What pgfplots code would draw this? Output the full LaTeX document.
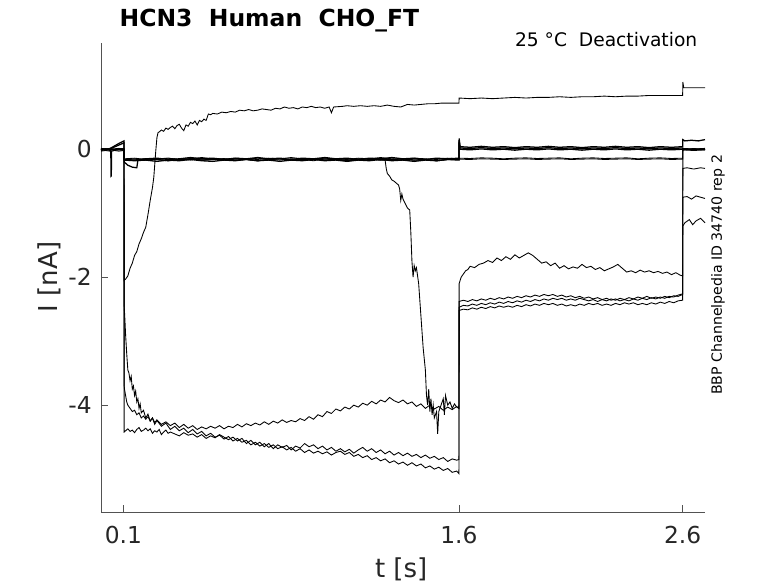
\documentclass[border=0pt]{standalone}
\usepackage{fontspec}
\setmainfont{DejaVu Sans}
\usepackage{pgfplots}
\pgfplotsset{compat=1.18}
\definecolor{axgray}{rgb}{0.15,0.15,0.15}
\pgfplotsset{tr/.style={black, line width=0.65pt, mark=none}, bd/.style={black, line width=0.95pt, mark=none}}
\begin{document}
\begin{tikzpicture}
\path[use as bounding box] (0,0) rectangle (583.5pt,437.25pt);
\begin{axis}[
  at={(75.75pt,53.25pt)}, anchor=south west,
  scale only axis, width=453pt, height=351.75pt,
  xmin=0, xmax=2.7, ymin=-5.67, ymax=1.66,
  clip=false,
  axis x line*=bottom, axis y line*=left,
  xtick pos=left, ytick pos=left,
  axis line style={-, draw=axgray!80, line width=0.5pt},
  tick align=inside, major tick length=5pt,
  tick style={draw=axgray!80, line width=0.5pt},
  xtick={0.1,1.6,2.6}, xticklabels={0.1,1.6,2.6},
  ytick={-4,-2,0}, yticklabels={-4,-2,0},
  tick label style={font=\fontsize{17.5}{20}\selectfont, text=axgray},
  xticklabel style={yshift=-7pt},
  yticklabel style={xshift=-3.5pt},
  xlabel={t [s]}, ylabel={I [nA]},
  label style={font=\fontsize{19.5}{22}\selectfont, text=axgray},
  xlabel style={at={(axis description cs:0.497,-0.1386)}, anchor=base},
  ylabel style={at={(axis description cs:-0.0728,0.501)}, anchor=base},
]
% T1 rising trace
\addplot[tr] coordinates {(0,0.00)(0.01,0.01)(0.02,-0.01)(0.03,0.00)(0.04,0.01)(0.05,-0.01)(0.06,0.00)(0.07,0.01)(0.08,0.00)(0.09,0.01)(0.103,0.00)
(0.1035,-2.05)(0.11,-2.03)(0.12,-1.98)(0.13,-1.86)(0.14,-1.78)(0.15,-1.66)(0.16,-1.6)(0.17,-1.48)(0.18,-1.4)(0.19,-1.3)(0.20,-1.22)(0.21,-1.02)(0.22,-0.8)(0.23,-0.6)(0.236,-0.44)(0.245,-0.02)(0.25,0.18)(0.255,0.26)(0.26,0.27)(0.27,0.3)(0.28,0.28)(0.29,0.33)(0.30,0.31)(0.31,0.34)(0.32,0.36)(0.33,0.32)(0.34,0.37)(0.35,0.39)(0.36,0.33)(0.37,0.29)(0.38,0.38)(0.39,0.36)(0.40,0.42)(0.41,0.40)(0.42,0.44)(0.43,0.38)(0.44,0.45)(0.45,0.43)(0.46,0.47)(0.47,0.45)(0.48,0.55)(0.49,0.54)(0.50,0.56)(0.52,0.55)(0.54,0.58)(0.56,0.57)(0.58,0.59)(0.60,0.58)(0.62,0.61)(0.64,0.6)(0.66,0.62)(0.68,0.6)(0.70,0.61)(0.72,0.63)(0.74,0.62)(0.76,0.61)(0.78,0.64)(0.80,0.63)(0.82,0.66)(0.84,0.64)(0.86,0.65)(0.88,0.63)(0.90,0.66)(0.92,0.65)(0.94,0.67)(0.96,0.65)(0.98,0.66)(1.0,0.64)(1.02,0.66)(1.03,0.57)(1.04,0.66)(1.08,0.67)(1.10,0.68)(1.13,0.67)(1.16,0.68)(1.19,0.67)(1.22,0.68)(1.25,0.67)(1.28,0.69)(1.31,0.67)(1.34,0.66)(1.37,0.7)(1.40,0.69)(1.43,0.7)(1.46,0.71)(1.49,0.71)(1.52,0.72)(1.55,0.72)(1.58,0.72)(1.60,0.72)
(1.601,0.8)(1.65,0.79)(1.70,0.8)(1.75,0.79)(1.80,0.8)(1.85,0.81)(1.90,0.8)(1.95,0.81)(2.0,0.81)(2.05,0.82)(2.1,0.81)(2.15,0.82)(2.2,0.82)(2.25,0.83)(2.3,0.82)(2.35,0.83)(2.4,0.83)(2.45,0.84)(2.5,0.84)(2.55,0.84)(2.6,0.84)
(2.601,1.05)(2.605,0.96)(2.62,0.96)(2.65,0.96)(2.70,0.96)};
% T2 late drop
\addplot[tr] coordinates {(0,-0.01)(0.02,0.00)(0.04,-0.01)(0.06,0.00)(0.08,-0.01)(0.103,0.00)
(0.1035,-0.16)(0.15,-0.15)(0.2,-0.17)(0.25,-0.16)(0.3,-0.14)(0.35,-0.16)(0.4,-0.17)(0.45,-0.15)(0.5,-0.16)(0.55,-0.17)(0.6,-0.15)(0.65,-0.16)(0.7,-0.14)(0.75,-0.16)(0.8,-0.17)(0.85,-0.15)(0.9,-0.16)(0.95,-0.18)(1.0,-0.15)(1.05,-0.16)(1.1,-0.17)(1.15,-0.15)(1.2,-0.16)(1.25,-0.15)
(1.27,-0.17)(1.275,-0.3)(1.28,-0.38)(1.29,-0.42)(1.30,-0.48)(1.31,-0.5)(1.32,-0.53)(1.33,-0.56)(1.335,-0.62)(1.34,-0.8)(1.345,-0.7)(1.35,-0.78)(1.36,-0.85)(1.37,-0.92)(1.38,-0.95)(1.385,-1.3)(1.39,-1.75)(1.395,-2.0)(1.40,-1.82)(1.405,-1.9)(1.41,-1.85)(1.42,-2.1)(1.43,-2.6)(1.44,-3.1)(1.45,-3.45)(1.455,-3.85)(1.46,-4.0)(1.465,-3.75)(1.47,-4.1)(1.475,-3.9)(1.48,-4.15)(1.485,-4.0)(1.49,-4.2)(1.50,-4.1)(1.505,-4.45)(1.51,-4.1)(1.52,-4.0)(1.53,-3.9)(1.535,-4.15)(1.54,-3.85)(1.55,-4.0)(1.56,-3.95)(1.57,-4.05)(1.58,-3.98)(1.59,-4.03)(1.60,-4.05)
(1.601,-2.1)(1.61,-2.0)(1.62,-1.95)(1.63,-1.9)(1.64,-1.88)(1.65,-1.83)(1.67,-1.85)(1.69,-1.8)(1.71,-1.78)(1.73,-1.74)(1.75,-1.77)(1.77,-1.7)(1.79,-1.74)(1.81,-1.68)(1.83,-1.72)(1.85,-1.65)(1.87,-1.7)(1.89,-1.66)(1.91,-1.62)(1.93,-1.66)(1.95,-1.72)(1.97,-1.78)(1.99,-1.76)(2.01,-1.82)(2.03,-1.78)(2.05,-1.86)(2.07,-1.82)(2.09,-1.87)(2.11,-1.84)(2.13,-1.86)(2.15,-1.8)(2.17,-1.85)(2.19,-1.83)(2.21,-1.88)(2.23,-1.85)(2.25,-1.9)(2.27,-1.87)(2.29,-1.84)(2.31,-1.8)(2.33,-1.86)(2.35,-1.92)(2.37,-1.9)(2.39,-1.93)(2.41,-1.89)(2.43,-1.92)(2.45,-1.9)(2.47,-1.93)(2.49,-1.91)(2.51,-1.94)(2.53,-1.92)(2.55,-1.96)(2.57,-1.93)(2.59,-1.97)(2.60,-1.98)
(2.601,-1.2)(2.61,-1.15)(2.63,-1.1)(2.645,-1.18)(2.66,-1.12)(2.68,-1.08)(2.70,-1.15)};
% T3 flat start
\addplot[tr] coordinates {(0,0.01)(0.02,-0.01)(0.04,0.00)(0.06,-0.01)(0.08,0.01)(0.103,0.00)
(0.1035,-4.42)(0.11,-4.4)(0.12,-4.37)(0.13,-4.41)(0.14,-4.39)(0.15,-4.43)(0.16,-4.38)(0.17,-4.35)(0.18,-4.41)(0.19,-4.39)(0.20,-4.36)(0.21,-4.4)(0.22,-4.37)(0.23,-4.44)(0.24,-4.4)(0.25,-4.42)(0.26,-4.38)(0.27,-4.46)(0.28,-4.42)(0.29,-4.39)(0.30,-4.44)(0.31,-4.42)(0.33,-4.45)(0.35,-4.48)(0.37,-4.43)(0.39,-4.47)(0.41,-4.45)(0.43,-4.5)(0.45,-4.46)(0.47,-4.52)(0.49,-4.48)(0.51,-4.51)(0.53,-4.46)(0.55,-4.5)(0.57,-4.54)(0.59,-4.5)(0.61,-4.56)(0.63,-4.52)(0.65,-4.6)(0.67,-4.55)(0.69,-4.62)(0.71,-4.58)(0.73,-4.65)(0.75,-4.6)(0.77,-4.68)(0.79,-4.62)(0.81,-4.66)(0.83,-4.63)(0.85,-4.7)(0.87,-4.64)(0.89,-4.67)(0.91,-4.6)(0.93,-4.65)(0.95,-4.62)(0.97,-4.68)(0.99,-4.64)(1.01,-4.7)(1.03,-4.66)(1.05,-4.72)(1.07,-4.68)(1.09,-4.73)(1.11,-4.69)(1.13,-4.75)(1.15,-4.7)(1.17,-4.66)(1.19,-4.72)(1.21,-4.68)(1.23,-4.74)(1.25,-4.7)(1.27,-4.76)(1.29,-4.72)(1.31,-4.78)(1.33,-4.74)(1.35,-4.79)(1.37,-4.75)(1.39,-4.8)(1.41,-4.77)(1.43,-4.82)(1.45,-4.78)(1.47,-4.83)(1.49,-4.8)(1.51,-4.85)(1.53,-4.82)(1.55,-4.88)(1.57,-4.84)(1.59,-4.86)(1.60,-4.85)
(1.601,-2.47)(1.62,-2.44)(1.64,-2.45)(1.66,-2.42)(1.68,-2.44)(1.70,-2.41)(1.72,-2.43)(1.74,-2.4)(1.76,-2.42)(1.78,-2.39)(1.80,-2.41)(1.82,-2.38)(1.84,-2.4)(1.86,-2.37)(1.88,-2.39)(1.90,-2.36)(1.92,-2.38)(1.94,-2.35)(1.96,-2.37)(1.98,-2.34)(2.0,-2.36)(2.02,-2.33)(2.04,-2.35)(2.06,-2.33)(2.08,-2.36)(2.10,-2.34)(2.12,-2.36)(2.14,-2.33)(2.16,-2.35)(2.18,-2.37)(2.20,-2.35)(2.22,-2.38)(2.24,-2.35)(2.26,-2.37)(2.28,-2.34)(2.30,-2.36)(2.32,-2.33)(2.34,-2.35)(2.36,-2.32)(2.38,-2.34)(2.40,-2.31)(2.42,-2.33)(2.44,-2.3)(2.46,-2.33)(2.48,-2.31)(2.50,-2.33)(2.52,-2.3)(2.54,-2.32)(2.56,-2.29)(2.58,-2.3)(2.60,-2.27)
(2.601,-0.75)(2.62,-0.74)(2.64,-0.78)(2.66,-0.73)(2.68,-0.75)(2.70,-0.77)};
% T4
\addplot[tr] coordinates {(0,0.00)(0.02,0.01)(0.04,-0.01)(0.06,0.00)(0.08,0.00)(0.103,0.01)
(0.1035,-3.7)(0.105,-3.75)(0.11,-3.85)(0.115,-3.95)(0.12,-4.0)(0.13,-4.05)(0.14,-4.1)(0.15,-4.08)(0.16,-4.15)(0.17,-4.12)(0.18,-4.2)(0.19,-4.17)(0.2,-4.22)(0.21,-4.18)(0.22,-4.25)(0.23,-4.2)(0.24,-4.27)(0.25,-4.23)(0.27,-4.3)(0.29,-4.26)(0.31,-4.32)(0.33,-4.28)(0.35,-4.35)(0.37,-4.3)(0.39,-4.36)(0.41,-4.32)(0.43,-4.38)(0.45,-4.34)(0.47,-4.37)(0.49,-4.33)(0.51,-4.36)(0.53,-4.32)(0.55,-4.37)(0.57,-4.33)(0.59,-4.35)(0.61,-4.3)(0.63,-4.34)(0.65,-4.29)(0.67,-4.32)(0.69,-4.28)(0.71,-4.31)(0.73,-4.26)(0.75,-4.3)(0.77,-4.25)(0.79,-4.28)(0.81,-4.23)(0.83,-4.27)(0.85,-4.24)(0.87,-4.26)(0.89,-4.21)(0.91,-4.24)(0.93,-4.18)(0.95,-4.22)(0.97,-4.15)(0.99,-4.18)(1.01,-4.1)(1.03,-4.13)(1.05,-4.06)(1.07,-4.09)(1.09,-4.03)(1.11,-4.06)(1.13,-4.0)(1.15,-4.03)(1.17,-3.97)(1.19,-4.0)(1.21,-3.94)(1.23,-3.98)(1.25,-3.92)(1.27,-3.95)(1.29,-3.88)(1.31,-3.93)(1.33,-3.96)(1.35,-3.92)(1.37,-3.98)(1.39,-3.95)(1.41,-4.02)(1.43,-3.98)(1.45,-4.05)(1.47,-4.0)(1.49,-4.06)(1.51,-4.02)(1.53,-4.08)(1.55,-4.03)(1.57,-4.07)(1.59,-4.02)(1.60,-4.05)
(1.601,-2.38)(1.62,-2.36)(1.64,-2.38)(1.66,-2.35)(1.68,-2.37)(1.70,-2.34)(1.72,-2.36)(1.74,-2.33)(1.76,-2.35)(1.78,-2.32)(1.80,-2.34)(1.82,-2.31)(1.84,-2.33)(1.86,-2.3)(1.88,-2.32)(1.90,-2.29)(1.92,-2.31)(1.94,-2.28)(1.96,-2.3)(1.98,-2.27)(2.0,-2.29)(2.02,-2.27)(2.04,-2.3)(2.06,-2.28)(2.08,-2.31)(2.10,-2.29)(2.12,-2.32)(2.14,-2.3)(2.16,-2.33)(2.18,-2.31)(2.20,-2.34)(2.22,-2.32)(2.24,-2.35)(2.26,-2.33)(2.28,-2.36)(2.30,-2.34)(2.32,-2.37)(2.34,-2.35)(2.36,-2.37)(2.38,-2.34)(2.40,-2.36)(2.42,-2.33)(2.44,-2.35)(2.46,-2.32)(2.48,-2.34)(2.50,-2.31)(2.52,-2.33)(2.54,-2.3)(2.56,-2.31)(2.58,-2.28)(2.60,-2.26)
(2.601,-0.3)(2.62,-0.29)(2.65,-0.31)(2.68,-0.29)(2.70,-0.3)};
% T5
\addplot[tr] coordinates {(0,-0.01)(0.02,0.00)(0.04,0.01)(0.06,-0.01)(0.08,0.00)(0.103,-0.01)
(0.1035,-2.45)(0.106,-2.6)(0.11,-2.9)(0.115,-3.2)(0.12,-3.45)(0.125,-3.5)(0.13,-3.62)(0.135,-3.55)(0.14,-3.75)(0.145,-3.7)(0.15,-3.85)(0.155,-3.78)(0.16,-3.95)(0.165,-3.9)(0.17,-4.05)(0.175,-3.98)(0.18,-4.12)(0.19,-4.08)(0.2,-4.2)(0.21,-4.14)(0.22,-4.25)(0.23,-4.2)(0.24,-4.3)(0.25,-4.24)(0.27,-4.33)(0.29,-4.28)(0.31,-4.38)(0.33,-4.33)(0.35,-4.4)(0.37,-4.36)(0.39,-4.43)(0.41,-4.38)(0.43,-4.45)(0.45,-4.41)(0.47,-4.48)(0.49,-4.44)(0.51,-4.5)(0.53,-4.47)(0.55,-4.53)(0.57,-4.49)(0.59,-4.56)(0.61,-4.52)(0.63,-4.58)(0.65,-4.55)(0.67,-4.62)(0.69,-4.58)(0.71,-4.64)(0.73,-4.6)(0.75,-4.66)(0.77,-4.62)(0.79,-4.68)(0.81,-4.65)(0.83,-4.7)(0.85,-4.66)(0.87,-4.72)(0.89,-4.68)(0.91,-4.74)(0.93,-4.7)(0.95,-4.75)(0.97,-4.72)(0.99,-4.76)(1.01,-4.73)(1.03,-4.78)(1.05,-4.74)(1.07,-4.72)(1.09,-4.77)(1.11,-4.74)(1.13,-4.8)(1.15,-4.77)(1.17,-4.82)(1.19,-4.79)(1.21,-4.85)(1.23,-4.82)(1.25,-4.87)(1.27,-4.84)(1.29,-4.9)(1.31,-4.87)(1.33,-4.92)(1.35,-4.89)(1.37,-4.94)(1.39,-4.9)(1.41,-4.95)(1.43,-4.92)(1.45,-4.98)(1.47,-4.95)(1.49,-5.0)(1.51,-4.97)(1.53,-5.02)(1.55,-4.99)(1.57,-5.05)(1.59,-5.03)(1.60,-5.07)
(1.601,-2.52)(1.62,-2.5)(1.64,-2.51)(1.66,-2.48)(1.68,-2.5)(1.70,-2.47)(1.72,-2.49)(1.74,-2.46)(1.76,-2.48)(1.78,-2.45)(1.80,-2.47)(1.82,-2.45)(1.84,-2.47)(1.86,-2.44)(1.88,-2.46)(1.90,-2.43)(1.92,-2.45)(1.94,-2.42)(1.96,-2.44)(1.98,-2.41)(2.0,-2.43)(2.02,-2.41)(2.04,-2.44)(2.06,-2.42)(2.08,-2.45)(2.10,-2.43)(2.12,-2.45)(2.14,-2.42)(2.16,-2.44)(2.18,-2.41)(2.20,-2.43)(2.22,-2.41)(2.24,-2.44)(2.26,-2.42)(2.28,-2.44)(2.30,-2.41)(2.32,-2.43)(2.34,-2.4)(2.36,-2.42)(2.38,-2.4)(2.40,-2.43)(2.42,-2.41)(2.44,-2.43)(2.46,-2.4)(2.48,-2.42)(2.50,-2.39)(2.52,-2.41)(2.54,-2.38)(2.56,-2.4)(2.58,-2.37)(2.60,-2.36)
(2.601,0.0)(2.65,0.01)(2.70,0.0)};
% T6 band with dip
\addplot[bd] coordinates {(0,0.0)(0.02,0.0)(0.04,0.01)(0.06,0.05)(0.08,0.09)(0.103,0.13)
(0.1035,-0.2)(0.12,-0.25)(0.14,-0.28)(0.16,-0.29)(0.165,-0.17)(0.2,-0.15)(0.25,-0.14)(0.3,-0.16)(0.35,-0.15)(0.4,-0.13)(0.45,-0.15)(0.5,-0.14)(0.55,-0.16)(0.6,-0.14)(0.65,-0.15)(0.7,-0.13)(0.75,-0.15)(0.8,-0.14)(0.85,-0.16)(0.9,-0.14)(0.95,-0.15)(1.0,-0.13)(1.05,-0.15)(1.1,-0.14)(1.15,-0.16)(1.2,-0.14)(1.25,-0.15)(1.3,-0.13)(1.35,-0.15)(1.4,-0.14)(1.45,-0.16)(1.5,-0.14)(1.55,-0.15)(1.6,-0.14)
(1.601,0.17)(1.605,0.04)(1.65,0.03)(1.7,0.045)(1.75,0.03)(1.8,0.04)(1.85,0.025)(1.9,0.04)(1.95,0.03)(2.0,0.045)(2.05,0.03)(2.1,0.04)(2.15,0.025)(2.2,0.04)(2.25,0.03)(2.3,0.045)(2.35,0.03)(2.4,0.04)(2.45,0.025)(2.5,0.04)(2.55,0.03)(2.6,0.04)
(2.601,0.15)(2.61,0.13)(2.64,0.14)(2.67,0.13)(2.70,0.15)};
% T7
\addplot[bd] coordinates {(0,-0.01)(0.03,0.0)(0.05,0.02)(0.07,0.05)(0.09,0.08)(0.103,0.1)
(0.1035,-0.17)(0.15,-0.18)(0.2,-0.17)(0.25,-0.19)(0.3,-0.17)(0.35,-0.18)(0.4,-0.16)(0.45,-0.18)(0.5,-0.19)(0.55,-0.17)(0.6,-0.18)(0.65,-0.16)(0.7,-0.18)(0.75,-0.17)(0.8,-0.19)(0.85,-0.17)(0.9,-0.18)(0.95,-0.16)(1.0,-0.18)(1.05,-0.17)(1.1,-0.19)(1.15,-0.17)(1.2,-0.18)(1.25,-0.16)(1.3,-0.18)(1.35,-0.17)(1.4,-0.19)(1.45,-0.17)(1.5,-0.18)(1.55,-0.16)(1.6,-0.17)
(1.601,0.12)(1.605,0.02)(1.65,0.01)(1.7,0.025)(1.75,0.01)(1.8,0.02)(1.85,0.005)(1.9,0.02)(1.95,0.01)(2.0,0.025)(2.05,0.01)(2.1,0.02)(2.15,0.005)(2.2,0.02)(2.25,0.01)(2.3,0.025)(2.35,0.01)(2.4,0.02)(2.45,0.005)(2.5,0.02)(2.55,0.01)(2.6,0.02)
(2.601,0.01)(2.65,0.0)(2.70,0.01)};
% T8 with pre spike
\addplot[tr] coordinates {(0,-0.02)(0.02,-0.01)(0.043,-0.02)(0.044,-0.43)(0.047,-0.42)(0.048,-0.03)(0.06,-0.02)(0.08,-0.01)(0.103,-0.02)
(0.1035,-0.16)(0.15,-0.17)(0.2,-0.15)(0.25,-0.16)(0.3,-0.18)(0.35,-0.16)(0.4,-0.15)(0.45,-0.17)(0.5,-0.16)(0.55,-0.15)(0.6,-0.17)(0.65,-0.16)(0.7,-0.18)(0.75,-0.16)(0.8,-0.15)(0.85,-0.17)(0.9,-0.16)(0.95,-0.15)(1.0,-0.17)(1.05,-0.16)(1.1,-0.18)(1.15,-0.16)(1.2,-0.15)(1.25,-0.17)(1.3,-0.16)(1.35,-0.15)(1.4,-0.17)(1.45,-0.16)(1.5,-0.18)(1.55,-0.16)(1.6,-0.16)
(1.601,-0.14)(1.65,-0.145)(1.7,-0.135)(1.75,-0.14)(1.8,-0.15)(1.85,-0.14)(1.9,-0.135)(1.95,-0.145)(2.0,-0.14)(2.05,-0.135)(2.1,-0.15)(2.15,-0.14)(2.2,-0.135)(2.25,-0.145)(2.3,-0.14)(2.35,-0.135)(2.4,-0.15)(2.45,-0.14)(2.5,-0.135)(2.55,-0.145)(2.6,-0.14)
(2.601,-0.01)(2.65,-0.02)(2.70,-0.01)};
% T9
\addplot[tr] coordinates {(0,-0.03)(0.02,-0.02)(0.04,-0.03)(0.06,-0.02)(0.08,-0.03)(0.103,-0.02)
(0.1035,-0.15)(0.15,-0.14)(0.2,-0.16)(0.25,-0.15)(0.3,-0.14)(0.35,-0.16)(0.4,-0.15)(0.45,-0.13)(0.5,-0.15)(0.55,-0.16)(0.6,-0.14)(0.65,-0.15)(0.7,-0.16)(0.75,-0.14)(0.8,-0.15)(0.85,-0.13)(0.9,-0.15)(0.95,-0.16)(1.0,-0.14)(1.05,-0.15)(1.1,-0.16)(1.15,-0.14)(1.2,-0.15)(1.25,-0.13)(1.3,-0.15)(1.35,-0.16)(1.4,-0.14)(1.45,-0.15)(1.5,-0.16)(1.55,-0.14)(1.6,-0.15)
(1.601,-0.155)(1.65,-0.16)(1.7,-0.15)(1.75,-0.155)(1.8,-0.16)(1.85,-0.155)(1.9,-0.15)(1.95,-0.16)(2.0,-0.155)(2.05,-0.15)(2.1,-0.16)(2.15,-0.155)(2.2,-0.15)(2.25,-0.16)(2.3,-0.155)(2.35,-0.15)(2.4,-0.16)(2.45,-0.155)(2.5,-0.15)(2.55,-0.16)(2.6,-0.155)
(2.601,0.0)(2.65,-0.01)(2.70,0.0)};
% T10
\addplot[bd] coordinates {(0,0.01)(0.02,0.0)(0.04,0.01)(0.06,0.0)(0.08,0.01)(0.103,0.0)
(0.1035,-0.16)(0.15,-0.17)(0.2,-0.15)(0.25,-0.16)(0.3,-0.18)(0.35,-0.16)(0.4,-0.15)(0.45,-0.17)(0.5,-0.16)(0.55,-0.15)(0.6,-0.17)(0.65,-0.16)(0.7,-0.18)(0.75,-0.16)(0.8,-0.15)(0.85,-0.17)(0.9,-0.16)(0.95,-0.15)(1.0,-0.17)(1.05,-0.16)(1.1,-0.18)(1.15,-0.16)(1.2,-0.15)(1.25,-0.17)(1.3,-0.16)(1.35,-0.15)(1.4,-0.17)(1.45,-0.16)(1.5,-0.18)(1.55,-0.16)(1.6,-0.16)
(1.601,0.14)(1.605,0.0)(1.65,-0.01)(1.7,0.005)(1.75,-0.01)(1.8,0.0)(1.85,-0.015)(1.9,0.0)(1.95,-0.01)(2.0,0.005)(2.05,-0.01)(2.1,0.0)(2.15,-0.015)(2.2,0.0)(2.25,-0.01)(2.3,0.005)(2.35,-0.01)(2.4,0.0)(2.45,-0.015)(2.5,0.0)(2.55,-0.01)(2.6,0.0)
(2.601,-0.01)(2.65,0.0)(2.70,-0.01)};
\node[anchor=base west, font=\bfseries\fontsize{17.6}{20}\selectfont] at (axis description cs:0.0232,1.0362) {HCN3\ \ Human\ \ CHO\_FT};
\node[anchor=base east, font=\fontsize{14}{16}\selectfont] at (axis description cs:0.995,0.9915) {25 °C\ \ Deactivation};
\node[rotate=90, anchor=base west, font=\fontsize{10.6}{12}\selectfont] at (axis description cs:1.028,0.24) {BBP Channelpedia ID 34740 rep 2};
\end{axis}
\end{tikzpicture}
\end{document}
